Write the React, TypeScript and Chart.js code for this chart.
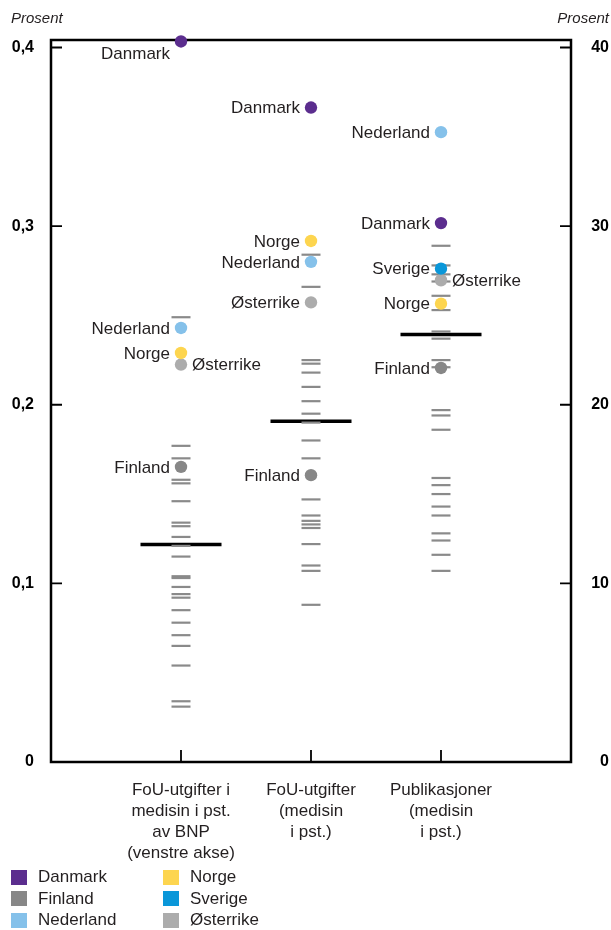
import React, { useEffect, useRef } from "react";
import { Chart, registerables } from "chart.js";
Chart.register(...registerables);

// ---------- data ----------
const categories: string[][] = [
  ["FoU-utgifter i", "medisin i pst.", "av BNP", "(venstre akse)"],
  ["FoU-utgifter", "(medisin", "i pst.)"],
  ["Publikasjoner", "(medisin", "i pst.)"],
];
const categoryX = [1, 2, 3];

const leftTicks = [0, 0.1, 0.2, 0.3, 0.4];
const leftTickLabels = ["0", "0,1", "0,2", "0,3", "0,4"];
const rightTicks = [0, 10, 20, 30, 40];
const rightTickLabels = ["0", "10", "20", "30", "40"];
const axisTitle = "Prosent";

// other countries (grey dashes)
const otherBnp = [0.249, 0.177, 0.170, 0.158, 0.156, 0.146, 0.134, 0.132, 0.126, 0.121, 0.115, 0.104, 0.103, 0.098, 0.094, 0.092, 0.085, 0.078, 0.071, 0.065, 0.054, 0.034, 0.031];
const otherFou = [28.4, 26.6, 22.5, 22.3, 21.8, 21.0, 20.2, 19.5, 19.0, 18.0, 17.0, 14.7, 13.8, 13.5, 13.3, 13.1, 12.2, 11.0, 10.7, 8.8];
const otherPub = [28.9, 27.8, 27.3, 26.9, 26.1, 25.3, 24.1, 23.7, 22.5, 22.1, 19.7, 19.4, 18.6, 15.9, 15.5, 15.0, 14.3, 13.8, 12.8, 12.4, 11.6, 10.7];

// averages (black bars)
const meanBnp = 0.1218;
const meanFou = 19.08;
const meanPub = 23.93;

// highlighted countries: [BNP share, FoU share, publication share]
const countries = ["Danmark", "Finland", "Nederland", "Norge", "Sverige", "Østerrike"];
const danmark = [0.4034, 36.64, 30.17];
const finland = [0.1652, 16.06, 22.06];
const nederland = [0.2430, 28.0, 35.26];
const norge = [0.2290, 29.17, 25.66];
const sverige = [null, null, 27.62];
const osterrike = [0.2225, 25.73, 26.97];
const countryValues = [danmark, finland, nederland, norge, sverige, osterrike];

// ---------- styles ----------
const countryColors = ["#5b2d8e", "#878787", "#85c1ea", "#fdd54f", "#0a97d9", "#acacac"];
const labelSide: Record<string, string[]> = {
  Danmark: ["belowLeft", "left", "left"],
  Østerrike: ["right", "left", "right"],
};
const FONT = "'Liberation Sans', Arial, sans-serif";
const TEXT = "#231f20";
const DASH = "#8a8a8a";

const W = 611;
const H = 930;

const zeroPad = (s: any) => {
  s.paddingTop = 0;
  s.paddingBottom = 0;
  s.paddingLeft = 0;
  s.paddingRight = 0;
};

const framePlugin = {
  id: "frame",
  beforeDatasetsDraw(chart: any) {
    const { ctx, chartArea } = chart;
    const { left, right, top, bottom } = chartArea;
    ctx.save();
    ctx.strokeStyle = "#000";
    ctx.lineWidth = 1.8;
    ctx.beginPath();
    leftTicks.forEach((v) => {
      const py = chart.scales.y.getPixelForValue(v);
      ctx.moveTo(left, py);
      ctx.lineTo(left + 11, py);
    });
    rightTicks.forEach((v) => {
      const py = chart.scales.y2.getPixelForValue(v);
      ctx.moveTo(right - 11, py);
      ctx.lineTo(right, py);
    });
    categoryX.forEach((v) => {
      const px = chart.scales.x.getPixelForValue(v);
      ctx.moveTo(px, bottom);
      ctx.lineTo(px, bottom - 12);
    });
    ctx.stroke();
    ctx.lineWidth = 2.5;
    ctx.strokeRect(left, top, right - left, bottom - top);
    ctx.restore();
  },
  afterDatasetsDraw(chart: any) {
    const { ctx } = chart;
    ctx.save();
    ctx.font = `17px ${FONT}`;
    ctx.fillStyle = TEXT;
    ctx.textBaseline = "middle";
    chart.data.datasets.forEach((ds: any, i: number) => {
      if (!ds.country) return;
      const meta = chart.getDatasetMeta(i);
      meta.data.forEach((el: any, j: number) => {
        const col = ds.cols[j];
        const side = (labelSide[ds.country] || [])[col] || "left";
        if (side === "right") {
          ctx.textAlign = "left";
          ctx.fillText(ds.country, el.x + 11, el.y + 1);
        } else if (side === "belowLeft") {
          ctx.textAlign = "right";
          ctx.fillText(ds.country, el.x - 11, el.y + 13);
        } else {
          ctx.textAlign = "right";
          ctx.fillText(ds.country, el.x - 11, el.y + 1);
        }
      });
    });
    ctx.font = `italic 15px ${FONT}`;
    ctx.textAlign = "left";
    ctx.fillText(axisTitle, 11, 19);
    ctx.textAlign = "right";
    ctx.fillText(axisTitle, W - 2, 19);
    ctx.restore();
  },
};

export default function App() {
  const ref = useRef<HTMLCanvasElement | null>(null);

  useEffect(() => {
    if (!ref.current) return;
    const datasets: any[] = [];

    // country dots (drawn on top)
    countries.forEach((name, ci) => {
      const vals = countryValues[ci];
      const color = countryColors[ci];
      if (vals[0] !== null) {
        datasets.push({
          country: name,
          cols: [0],
          data: [{ x: categoryX[0], y: vals[0] }],
          yAxisID: "y",
          pointRadius: 6.2,
          pointBackgroundColor: color,
          pointBorderWidth: 0,
          order: 0,
          clip: false,
        });
      }
      const pts: any[] = [];
      const cols: number[] = [];
      [1, 2].forEach((c) => {
        if (vals[c] !== null) {
          pts.push({ x: categoryX[c], y: vals[c] });
          cols.push(c);
        }
      });
      datasets.push({
        country: name,
        cols,
        data: pts,
        yAxisID: "y2",
        pointRadius: 6.2,
        pointBackgroundColor: color,
        pointBorderWidth: 0,
        order: 0,
        clip: false,
      });
    });

    // grey dashes
    const dash = (data: any[], axis: string) => ({
      data,
      yAxisID: axis,
      pointStyle: "line",
      pointRadius: 9.5,
      pointBorderWidth: 2.2,
      pointBorderColor: DASH,
      order: 1,
      clip: false,
    });
    datasets.push(dash(otherBnp.map((v) => ({ x: categoryX[0], y: v })), "y"));
    datasets.push(dash(otherFou.map((v) => ({ x: categoryX[1], y: v })), "y2"));
    datasets.push(dash(otherPub.map((v) => ({ x: categoryX[2], y: v })), "y2"));

    // mean bars
    const mean = (data: any[], axis: string) => ({
      data,
      yAxisID: axis,
      pointStyle: "line",
      pointRadius: 40.5,
      pointBorderWidth: 3.5,
      pointBorderColor: "#000",
      order: 2,
      clip: false,
    });
    datasets.push(mean([{ x: categoryX[0], y: meanBnp }], "y"));
    datasets.push(mean([{ x: categoryX[1], y: meanFou }, { x: categoryX[2], y: meanPub }], "y2"));

    const chart = new Chart(ref.current, {
      type: "scatter",
      data: { datasets },
      plugins: [framePlugin],
      options: {
        animation: false,
        responsive: false,
        events: [],
        layout: { autoPadding: false, padding: { left: 0, right: 2, top: 40, bottom: 0 } },
        plugins: { legend: { display: false }, tooltip: { enabled: false } },
        scales: {
          x: {
            type: "linear",
            min: 0,
            max: 4,
            border: { display: false },
            grid: { display: false, drawTicks: false },
            afterBuildTicks: (s: any) => {
              s.ticks = categoryX.map((v) => ({ value: v }));
            },
            afterFit: (s: any) => {
              s.height = H - 762;
              zeroPad(s);
            },
            ticks: {
              autoSkip: false,
              maxRotation: 0,
              padding: 18,
              color: TEXT,
              font: { family: FONT, size: 17, lineHeight: "21px" } as any,
              callback: (v: any) => categories[categoryX.indexOf(v)] || "",
            },
          },
          y: {
            position: "left",
            min: 0,
            max: 0.4042,
            border: { display: false },
            grid: { display: false, drawTicks: false },
            afterBuildTicks: (s: any) => {
              s.ticks = leftTicks.map((v) => ({ value: v }));
            },
            afterFit: (s: any) => {
              s.width = 51;
              zeroPad(s);
            },
            ticks: {
              padding: 17,
              color: "#000",
              font: { family: FONT, size: 16, weight: "bold" },
              callback: (v: any) => leftTickLabels[leftTicks.indexOf(v)] ?? "",
            },
          },
          y2: {
            position: "right",
            min: 0,
            max: 40.42,
            border: { display: false },
            grid: { display: false, drawTicks: false },
            afterBuildTicks: (s: any) => {
              s.ticks = rightTicks.map((v) => ({ value: v }));
            },
            afterFit: (s: any) => {
              s.width = 38;
              zeroPad(s);
            },
            ticks: {
              crossAlign: "far",
              padding: 15,
              color: "#000",
              font: { family: FONT, size: 16, weight: "bold" },
              callback: (v: any) => rightTickLabels[rightTicks.indexOf(v)] ?? "",
            },
          },
        },
      } as any,
    });
    return () => chart.destroy();
  }, []);

  const legendItem = (name: string, i: number) => {
    const col = i < 3 ? 0 : 1;
    const row = i % 3;
    return (
      <div
        key={name}
        style={{
          position: "absolute",
          left: col === 0 ? 11 : 163,
          top: 869 + row * 21.7,
          height: 16,
          display: "flex",
          alignItems: "center",
          fontFamily: FONT,
          fontSize: 17,
          color: TEXT,
          whiteSpace: "nowrap",
        }}
      >
        <span style={{ display: "inline-block", width: 16, height: 15, background: countryColors[i], marginRight: 11 }} />
        <span>{name}</span>
      </div>
    );
  };

  return (
    <div style={{ position: "absolute", left: 0, top: 0, width: W, height: H, background: "#fff" }}>
      <canvas ref={ref} width={W} height={H} style={{ display: "block", width: W, height: H }} />
      {countries.map((c, i) => legendItem(c, i))}
    </div>
  );
}
